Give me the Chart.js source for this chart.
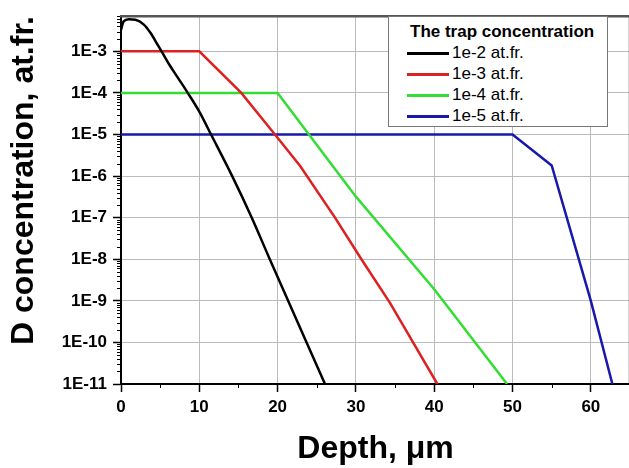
<!DOCTYPE html>
<html>
<head>
<meta charset="utf-8">
<script src="https://cdn.jsdelivr.net/npm/chart.js@4.4.1/dist/chart.umd.min.js"></script>
<style>
    html, body { margin: 0; padding: 0; overflow: hidden; background: #fff; }
    #wrap { position: relative; width: 640px; height: 468px; }
    #legend {
        position: absolute; left: 388px; top: 16px; width: 220px; height: 111px;
        box-sizing: border-box; border: 1px solid #777; background: #fff;
        font-family: 'Liberation Sans', Arial, sans-serif; color: #000;
    }
    #legend .lg-title { font-weight: bold; font-size: 17px; line-height: 21px; padding: 3.5px 0 0 21px; white-space: nowrap; }
    #legend ul { list-style: none; margin: 1.8px 0 0 0; padding: 0; }
    #legend li { display: flex; align-items: center; height: 20.8px; font-size: 17px; line-height: 20.8px; white-space: nowrap; }
    #legend .swatch { display: inline-block; width: 42px; height: 3px; margin: 0 3px 0 18px; }
</style>
</head>
<body>
<div id="wrap">
    <canvas id="chart"></canvas>
    <div id="legend"></div>
</div>
<script>
// данные
const depthBlack = [0, 0.34, 1.0, 1.85, 2.92, 3.78, 4.64, 5.28, 6.14, 7.21, 8.5, 10.0, 11.5, 14.2, 16.7, 19.0, 26.05];
const concBlack = [3.3e-3, 5.25e-3, 5.9e-3, 5.75e-3, 4.4e-3, 2.75e-3, 1.48e-3, 9.3e-4, 4.9e-4, 2.4e-4, 1.02e-4, 3.55e-5, 1.0e-5, 1.0e-6, 1.0e-7, 1.0e-8, 1.0e-11];

const depthRed = [0, 10, 15.36, 19.66, 22.88, 27.33, 30.7, 34.35, 40.4];
const concRed = [1e-3, 1e-3, 1e-4, 1e-5, 1.74e-6, 1e-7, 1e-8, 8.9e-10, 1e-11];

const depthGreen = [0, 20, 24, 28, 30, 40, 49.3];
const concGreen = [1e-4, 1e-4, 1e-5, 1e-6, 3.2e-7, 1.9e-9, 1e-11];

const depthBlue = [0, 50, 55, 60, 62.75];
const concBlue = [1e-5, 1e-5, 1.8e-6, 1e-9, 1e-11];

const seriesLabels = ['1e-2 at.fr.', '1e-3 at.fr.', '1e-4 at.fr.', '1e-5 at.fr.'];
const legendTitle = 'The trap concentration';

const xTickValues = [0, 10, 20, 30, 40, 50, 60];
const xMinorValues = [5, 15, 25, 35, 45, 55, 65];
const yTickValues = [1e-11, 1e-10, 1e-9, 1e-8, 1e-7, 1e-6, 1e-5, 1e-4, 1e-3];
const yTickLabels = ['1E-11', '1E-10', '1E-9', '1E-8', '1E-7', '1E-6', '1E-5', '1E-4', '1E-3'];

const xTitle = 'Depth, \u03bcm';
const yTitle = 'D concentration, at.fr.';

const FONT = "'Liberation Sans', Arial, sans-serif";
Chart.defaults.font.family = FONT;
Chart.defaults.color = '#000';

const toPoints = (xs, ys) => xs.map((x, i) => ({ x, y: ys[i] }));

// минорные тики, рамка сверху и подписи осей
const axisExtras = {
    id: 'axisExtras',
    afterDraw(chart) {
        const { ctx, chartArea, scales } = chart;
        const { left, right, top, bottom } = chartArea;
        ctx.save();
        ctx.strokeStyle = '#000';
        ctx.lineWidth = 1;
        ctx.beginPath();
        for (let e = -11; e <= -3; e++) {
            for (let m = 2; m <= 9; m++) {
                const v = m * Math.pow(10, e);
                if (v > scales.y.max) break;
                const py = Math.round(scales.y.getPixelForValue(v)) + 0.5;
                ctx.moveTo(left - 4, py);
                ctx.lineTo(left, py);
            }
        }
        xMinorValues.forEach((v) => {
            const px = Math.round(scales.x.getPixelForValue(v)) + 0.5;
            ctx.moveTo(px, bottom);
            ctx.lineTo(px, bottom + 4);
        });
        ctx.stroke();

        ctx.strokeStyle = '#555';
        ctx.lineWidth = 2.5;
        ctx.beginPath();
        ctx.moveTo(left - 1, top);
        ctx.lineTo(right, top);
        ctx.lineTo(right, bottom);
        ctx.stroke();

        ctx.fillStyle = '#000';
        ctx.font = `bold 32px ${FONT}`;
        ctx.textAlign = 'center';
        ctx.textBaseline = 'alphabetic';
        ctx.fillText(xTitle, (left + right) / 2, 458);

        ctx.translate(33, 180.5);
        ctx.rotate(-Math.PI / 2);
        ctx.fillText(yTitle, 0, 0);
        ctx.restore();
    },
};

// легенда в html по наборам данных
const htmlLegend = {
    id: 'htmlLegend',
    afterUpdate(chart) {
        const box = document.getElementById('legend');
        if (!box) return;
        box.innerHTML = `<div class="lg-title">${legendTitle}</div>`;
        const ul = document.createElement('ul');
        chart.data.datasets.forEach((ds) => {
            const li = document.createElement('li');
            li.innerHTML = `<span class="swatch" style="background:${ds.borderColor}"></span><span>${ds.label}</span>`;
            ul.appendChild(li);
        });
        box.appendChild(ul);
    },
};

const makeSet = (label, xs, ys, color, extra = {}) => ({
    label,
    data: toPoints(xs, ys),
    borderColor: color,
    backgroundColor: color,
    borderWidth: 2.5,
    pointRadius: 0,
    tension: 0,
    ...extra,
});

new Chart(document.getElementById('chart'), {
    type: 'line',
    data: {
        datasets: [
            makeSet(seriesLabels[0], depthBlack, concBlack, '#000000', { cubicInterpolationMode: 'monotone' }),
            makeSet(seriesLabels[1], depthRed, concRed, '#dd2020'),
            makeSet(seriesLabels[2], depthGreen, concGreen, '#33dd33'),
            makeSet(seriesLabels[3], depthBlue, concBlue, '#1818aa'),
        ],
    },
    options: {
        responsive: true,
        maintainAspectRatio: false,
        animation: false,
        layout: { padding: { top: 11, right: 10, left: 0, bottom: 0 } },
        plugins: {
            legend: { display: false },
            tooltip: { enabled: false },
        },
        scales: {
            x: {
                type: 'linear',
                min: 0,
                max: 65,
                afterFit: (s) => { s.height = 84; },
                afterBuildTicks: (s) => { s.ticks = xTickValues.map((value) => ({ value })); },
                ticks: {
                    font: { size: 17, weight: 'bold' },
                    padding: 5,
                    maxRotation: 0,
                    callback: (v) => String(v),
                },
                grid: { color: '#bbbbbb', lineWidth: 1, tickColor: '#000', tickLength: 8, tickWidth: 1.5 },
                border: { color: '#000', width: 2 },
            },
            y: {
                type: 'logarithmic',
                min: 1e-11,
                max: 7e-3,
                afterFit: (s) => { s.width = 121; },
                afterBuildTicks: (s) => { s.ticks = yTickValues.map((value) => ({ value })); },
                ticks: {
                    font: { size: 17, weight: 'bold' },
                    padding: 6,
                    callback: (v) => {
                        const i = yTickValues.findIndex((t) => Math.abs(Math.log10(t) - Math.log10(v)) < 1e-6);
                        return i >= 0 ? yTickLabels[i] : '';
                    },
                },
                grid: { color: '#bbbbbb', lineWidth: 1, tickColor: '#000', tickLength: 8, tickWidth: 1.5 },
                border: { color: '#000', width: 2 },
            },
        },
    },
    plugins: [axisExtras, htmlLegend],
});
</script>
</body>
</html>
